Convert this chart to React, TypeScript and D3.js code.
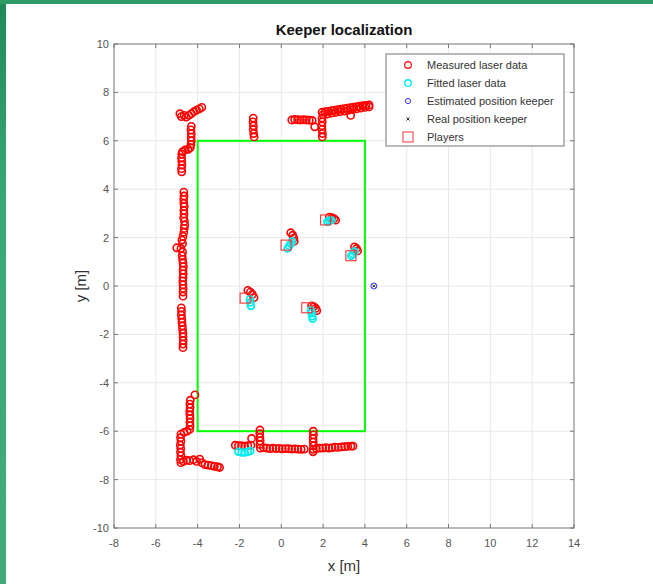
import React, { useEffect, useRef } from 'react'
import * as d3 from 'd3'

type Pt = [number, number]

// red laser returns, walls + players
const measuredLaser: Pt[] = [
  // top left corner
  [-4.85, 7.12], [-4.78, 7.0], [-4.65, 7.05], [-4.55, 6.98], [-4.42, 7.05], [-4.3, 7.12],
  [-4.18, 7.2], [-4.05, 7.27], [-3.92, 7.32], [-3.8, 7.38],
  // left wall
  [-4.3, 6.6], [-4.32, 6.45], [-4.3, 6.3], [-4.31, 6.15], [-4.3, 6.0], [-4.32, 5.85], [-4.35, 5.72],
  [-4.45, 5.65], [-4.6, 5.62], [-4.72, 5.55],
  [-4.76, 5.45], [-4.77, 5.3], [-4.76, 5.15], [-4.75, 5.0], [-4.77, 4.85], [-4.76, 4.72],
  [-4.66, 3.88], [-4.65, 3.72], [-4.67, 3.58], [-4.66, 3.42], [-4.64, 3.28], [-4.66, 3.12],
  [-4.65, 2.98], [-4.67, 2.82], [-4.63, 2.68], [-4.62, 2.52], [-4.64, 2.38], [-4.66, 2.22],
  [-4.7, 2.05], [-4.75, 1.9], [-4.72, 1.75], [-5.0, 1.58], [-4.8, 1.55], [-4.72, 1.4],
  [-4.74, 1.25], [-4.72, 1.1], [-4.7, 0.95], [-4.68, 0.8], [-4.7, 0.65], [-4.69, 0.5],
  [-4.7, 0.35], [-4.71, 0.2], [-4.7, 0.05], [-4.69, -0.1], [-4.7, -0.25], [-4.7, -0.42],
  [-4.78, -0.9], [-4.77, -1.05], [-4.78, -1.2], [-4.76, -1.35], [-4.75, -1.5], [-4.73, -1.65],
  [-4.72, -1.8], [-4.7, -1.95], [-4.7, -2.1], [-4.69, -2.25], [-4.7, -2.4], [-4.7, -2.55],
  [-4.13, -4.5],
  [-4.35, -4.72], [-4.37, -4.88], [-4.36, -5.03], [-4.38, -5.18], [-4.37, -5.33], [-4.36, -5.48],
  [-4.37, -5.63], [-4.36, -5.78], [-4.38, -5.93], [-4.5, -6.0], [-4.65, -6.05],
  [-4.8, -6.12], [-4.82, -6.27], [-4.8, -6.42], [-4.83, -6.57], [-4.81, -6.72], [-4.82, -6.87],
  [-4.8, -7.02], [-4.82, -7.17], [-4.8, -7.3],
  [-4.68, -7.25], [-4.52, -7.2], [-4.38, -7.22], [-4.2, -7.18], [-4.05, -7.25], [-3.9, -7.15],
  [-3.8, -7.3], [-3.65, -7.38], [-3.5, -7.4], [-3.35, -7.42], [-3.2, -7.45], [-3.05, -7.47], [-2.95, -7.5],
  // top wall
  [-1.34, 6.94], [-1.35, 6.78], [-1.33, 6.62], [-1.34, 6.46], [-1.32, 6.3], [-1.3, 6.16],
  [0.5, 6.86], [0.64, 6.88], [0.78, 6.87], [0.92, 6.86], [1.06, 6.87], [1.2, 6.86], [1.34, 6.85], [1.48, 6.84],
  [1.6, 6.58],
  [1.95, 6.94], [1.96, 6.78], [1.94, 6.62], [1.95, 6.46], [1.97, 6.3], [1.96, 6.16],
  [1.95, 7.18], [2.1, 7.2], [2.25, 7.22], [2.4, 7.25], [2.55, 7.27], [2.7, 7.29], [2.85, 7.31],
  [3.0, 7.33], [3.15, 7.35], [3.3, 7.37], [3.45, 7.39], [3.6, 7.41], [3.75, 7.43], [3.9, 7.45],
  [4.05, 7.46], [4.2, 7.48],
  [2.0, 7.08], [2.2, 7.1], [2.4, 7.14], [2.6, 7.17], [2.8, 7.2], [3.0, 7.23], [3.2, 7.26],
  [3.4, 7.29], [3.6, 7.32], [3.8, 7.35], [4.0, 7.38], [4.2, 7.4],
  [3.32, 7.05],
  // bottom wall
  [-2.2, -6.58], [-2.05, -6.6], [-1.9, -6.6], [-1.75, -6.62], [-1.6, -6.6], [-1.45, -6.58], [-1.42, -6.3],
  [-1.02, -5.95], [-1.03, -6.1], [-1.02, -6.25], [-1.01, -6.4], [-1.02, -6.55],
  [-1.0, -6.7], [-0.85, -6.68], [-0.7, -6.7], [-0.55, -6.72], [-0.4, -6.7], [-0.25, -6.72],
  [-0.1, -6.71], [0.05, -6.73], [0.2, -6.72], [0.35, -6.72], [0.5, -6.74], [0.65, -6.73],
  [0.8, -6.74], [0.95, -6.75], [1.1, -6.74],
  [1.53, -6.0], [1.54, -6.15], [1.52, -6.3], [1.53, -6.45], [1.54, -6.6], [1.53, -6.75], [1.52, -6.85],
  [1.68, -6.72], [1.83, -6.7], [1.98, -6.7], [2.13, -6.68], [2.28, -6.7], [2.43, -6.68],
  [2.58, -6.66], [2.73, -6.67], [2.88, -6.65], [3.03, -6.64], [3.18, -6.63], [3.33, -6.62], [3.43, -6.62],
  // players
  [2.3, 2.85], [2.42, 2.82], [2.52, 2.78], [2.6, 2.72],
  [0.45, 2.2], [0.55, 2.1], [0.6, 1.98], [0.62, 1.85],
  [3.5, 1.62], [3.6, 1.55], [3.65, 1.45],
  [-1.6, -0.18], [-1.48, -0.25], [-1.38, -0.35], [-1.3, -0.48],
  [1.45, -0.82], [1.55, -0.85], [1.65, -0.92], [1.7, -1.02],
]

const fittedLaser: Pt[] = [
  [2.2, 2.65], [2.3, 2.7], [2.4, 2.72],
  [0.3, 1.55], [0.38, 1.65], [0.45, 1.75], [0.52, 1.85],
  [3.35, 1.25], [3.42, 1.32], [3.5, 1.42],
  [-1.5, -0.55], [-1.48, -0.68], [-1.45, -0.82],
  [1.42, -1.0], [1.45, -1.12], [1.48, -1.25], [1.5, -1.35],
  [-2.05, -6.85], [-1.9, -6.88], [-1.75, -6.88], [-1.6, -6.85], [-1.48, -6.82],
]

const keeperEstimated: Pt[] = [[4.43, 0.0]]
const keeperReal: Pt[] = [[4.43, 0.0]]
const players: Pt[] = [[2.12, 2.73], [0.23, 1.69], [3.33, 1.25], [-1.73, -0.5], [1.22, -0.9]]

// field box
const fieldX = [-4, 4]
const fieldY = [-6, 6]

const xTicks = [-8, -6, -4, -2, 0, 2, 4, 6, 8, 10, 12, 14]
const yTicks = [-10, -8, -6, -4, -2, 0, 2, 4, 6, 8, 10]

const legendLabels = [
  'Measured laser data',
  'Fitted laser data',
  'Estimated position keeper',
  'Real position keeper',
  'Players',
]

const W = 653
const H = 584

const App = () => {
  const ref = useRef<SVGSVGElement>(null)

  useEffect(() => {
    const svg = d3.select(ref.current)
    svg.selectAll('*').remove()

    const left = 114, right = 574, top = 44, bottom = 528
    const x = d3.scaleLinear().domain([-8, 14]).range([left, right])
    const y = d3.scaleLinear().domain([-10, 10]).range([bottom, top])
    const font = 'Arial, "Liberation Sans", sans-serif'

    svg.append('rect').attr('width', W).attr('height', H).attr('fill', '#fff')

    const defs = svg.append('defs')
    // green slide background peeking in
    const grad = defs.append('linearGradient')
      .attr('id', 'bg').attr('x1', 0).attr('y1', 0).attr('x2', 0).attr('y2', 1)
    grad.append('stop').attr('offset', 0).attr('stop-color', '#1f8a58')
    grad.append('stop').attr('offset', 0.35).attr('stop-color', '#3aa876')
    grad.append('stop').attr('offset', 1).attr('stop-color', '#42aa7a')
    // the screenshot is soft, markers smear together
    defs.append('filter').attr('id', 'soft')
      .append('feGaussianBlur').attr('stdDeviation', 0.5)

    svg.append('rect').attr('x', 0).attr('y', 0).attr('width', 6).attr('height', H).attr('fill', 'url(#bg)')
    svg.append('rect').attr('x', 0).attr('y', 0).attr('width', W).attr('height', 4).attr('fill', '#2f9c68')

    // grid
    const grid = svg.append('g').attr('stroke', '#e8e8e8').attr('stroke-width', 1)
    grid.selectAll('line.gx').data(xTicks.slice(1, -1)).join('line')
      .attr('x1', d => x(d)).attr('x2', d => x(d)).attr('y1', top).attr('y2', bottom)
    grid.selectAll('line.gy').data(yTicks.slice(1, -1)).join('line')
      .attr('class', 'gy')
      .attr('y1', d => y(d)).attr('y2', d => y(d)).attr('x1', left).attr('x2', right)

    // box + ticks
    svg.append('rect').attr('x', left).attr('y', top).attr('width', right - left).attr('height', bottom - top)
      .attr('fill', 'none').attr('stroke', '#8c8c8c').attr('stroke-width', 1.2)
    const ticks = svg.append('g').attr('stroke', '#777').attr('stroke-width', 1)
    xTicks.forEach(t => {
      ticks.append('line').attr('x1', x(t)).attr('x2', x(t)).attr('y1', bottom).attr('y2', bottom - 4)
      ticks.append('line').attr('x1', x(t)).attr('x2', x(t)).attr('y1', top).attr('y2', top + 4)
    })
    yTicks.forEach(t => {
      ticks.append('line').attr('y1', y(t)).attr('y2', y(t)).attr('x1', left).attr('x2', left + 4)
      ticks.append('line').attr('y1', y(t)).attr('y2', y(t)).attr('x1', right).attr('x2', right - 4)
    })

    svg.append('g').attr('font-family', font).attr('font-size', 11).attr('fill', '#555')
      .attr('text-anchor', 'middle')
      .selectAll('text').data(xTicks).join('text')
      .attr('x', d => x(d)).attr('y', bottom + 19).text(d => d)
    svg.append('g').attr('font-family', font).attr('font-size', 11).attr('fill', '#555')
      .attr('text-anchor', 'end')
      .selectAll('text').data(yTicks).join('text')
      .attr('x', left - 5).attr('y', d => y(d) + 4).text(d => d)

    svg.append('text').attr('x', (left + right) / 2).attr('y', 35)
      .attr('text-anchor', 'middle').attr('font-family', font).attr('font-size', 15)
      .attr('font-weight', 'bold').attr('fill', '#111').text('Keeper localization')
    svg.append('text').attr('x', (left + right) / 2).attr('y', 571)
      .attr('text-anchor', 'middle').attr('font-family', font).attr('font-size', 15)
      .attr('fill', '#333').text('x [m]')
    svg.append('text').attr('transform', `translate(86,${y(0)}) rotate(-90)`)
      .attr('text-anchor', 'middle').attr('font-family', font).attr('font-size', 15)
      .attr('fill', '#333').text('y [m]')

    // field
    svg.append('rect')
      .attr('x', x(fieldX[0])).attr('y', y(fieldY[1]))
      .attr('width', x(fieldX[1]) - x(fieldX[0])).attr('height', y(fieldY[0]) - y(fieldY[1]))
      .attr('fill', 'none').attr('stroke', '#00ff00').attr('stroke-width', 2)

    const marks = svg.append('g').attr('filter', 'url(#soft)')

    marks.append('g').selectAll('circle').data(measuredLaser).join('circle')
      .attr('cx', d => x(d[0])).attr('cy', d => y(d[1])).attr('r', 3.6)
      .attr('fill', 'none').attr('stroke', '#ff0000').attr('stroke-width', 1.6)

    marks.append('g').selectAll('circle').data(fittedLaser).join('circle')
      .attr('cx', d => x(d[0])).attr('cy', d => y(d[1])).attr('r', 3.4)
      .attr('fill', 'none').attr('stroke', '#00eeee').attr('stroke-width', 1.8)

    marks.append('g').selectAll('circle').data(keeperEstimated).join('circle')
      .attr('cx', d => x(d[0])).attr('cy', d => y(d[1])).attr('r', 3)
      .attr('fill', 'none').attr('stroke', '#3333ff').attr('stroke-width', 1)

    const cross = d3.symbol().type(d3.symbolX).size(8)
    marks.append('g').selectAll('path').data(keeperReal).join('path')
      .attr('transform', d => `translate(${x(d[0])},${y(d[1])})`)
      .attr('d', cross).attr('fill', 'none').attr('stroke', '#000').attr('stroke-width', 0.8)

    marks.append('g').selectAll('rect').data(players).join('rect')
      .attr('x', d => x(d[0]) - 5).attr('y', d => y(d[1]) - 5).attr('width', 10).attr('height', 10)
      .attr('fill', 'none').attr('stroke', '#ff3030').attr('stroke-width', 1.1)

    // legend
    const lg = svg.append('g').attr('transform', 'translate(386,54)')
    lg.append('rect').attr('width', 178).attr('height', 92).attr('fill', '#fff')
      .attr('stroke', '#8c8c8c').attr('stroke-width', 1.2)
    const row = (i: number) => 11 + i * 18
    lg.selectAll('text').data(legendLabels).join('text')
      .attr('x', 41).attr('y', (_, i) => row(i) + 4)
      .attr('font-family', font).attr('font-size', 11).attr('fill', '#333')
      .text(d => d)
    lg.append('circle').attr('cx', 22).attr('cy', row(0)).attr('r', 3.3)
      .attr('fill', 'none').attr('stroke', '#ff0000').attr('stroke-width', 1.2)
    lg.append('circle').attr('cx', 22).attr('cy', row(1)).attr('r', 3.3)
      .attr('fill', 'none').attr('stroke', '#00eeee').attr('stroke-width', 1.4)
    lg.append('circle').attr('cx', 22).attr('cy', row(2)).attr('r', 2.6)
      .attr('fill', 'none').attr('stroke', '#3333ff').attr('stroke-width', 1)
    lg.append('path').attr('transform', `translate(22,${row(3)})`).attr('d', cross)
      .attr('fill', 'none').attr('stroke', '#000').attr('stroke-width', 0.8)
    lg.append('rect').attr('x', 17).attr('y', row(4) - 5).attr('width', 10).attr('height', 10)
      .attr('fill', 'none').attr('stroke', '#ff3030').attr('stroke-width', 1)
  }, [])

  return (
    <svg ref={ref} width={W} height={H}
      style={{ position: 'absolute', left: 0, top: 0, display: 'block' }} />
  )
}

export default App
